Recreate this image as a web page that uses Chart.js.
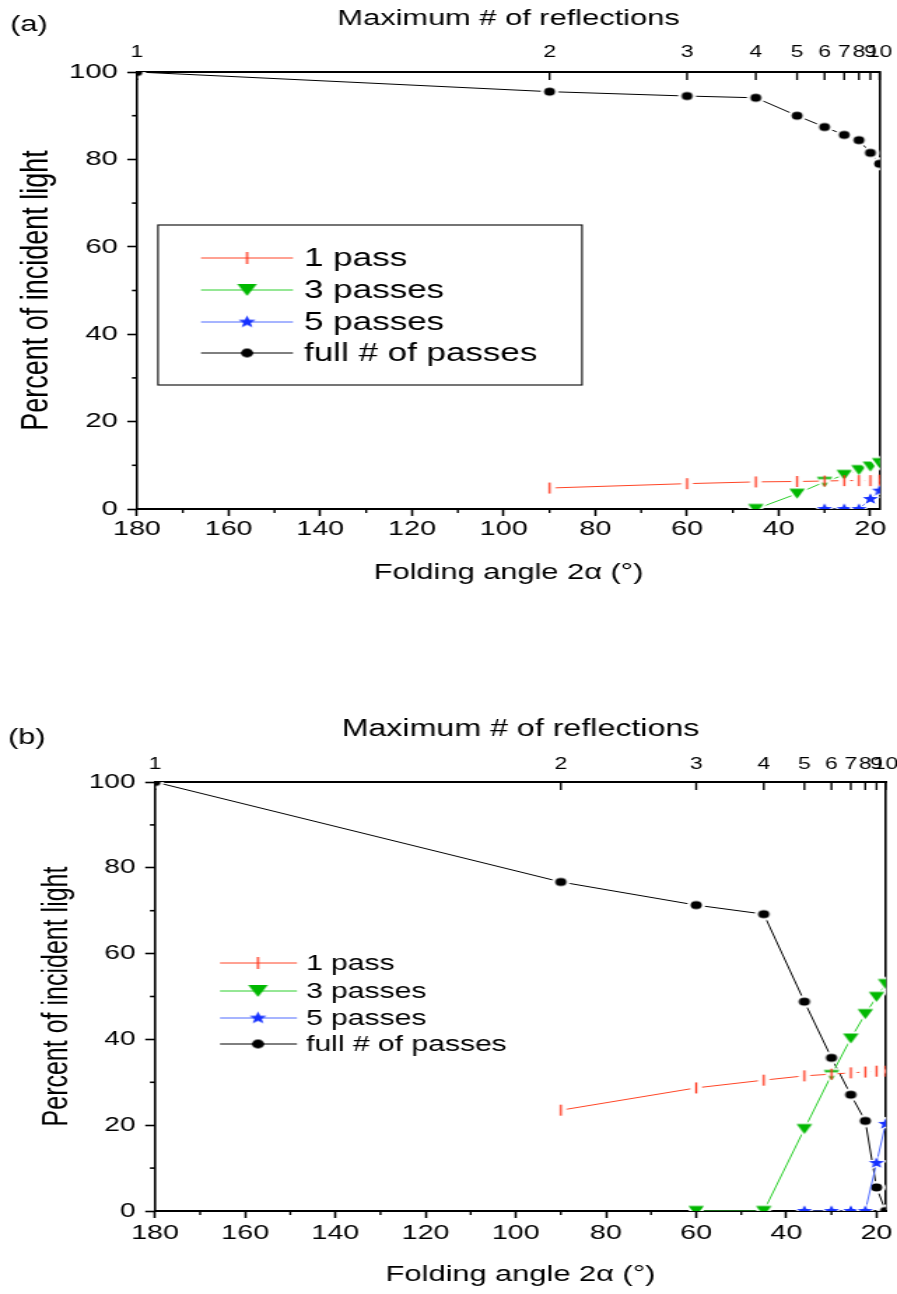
<!DOCTYPE html>
<html>
<head>
<meta charset="utf-8">
<title>Folding angle vs. transmitted light</title>
<script src="https://cdn.jsdelivr.net/npm/chart.js@4/dist/chart.umd.min.js"></script>
<style>
  html, body { margin: 0; padding: 0; background: #fff; }
  body { width: 897px; height: 1294px; position: relative; overflow: hidden; }
  .panel { position: absolute; left: 0; transform-origin: 0 0; }
  #wrapA { top: 0; }
  #wrapB { top: 690px; }
</style>
</head>
<body>
<div class="panel" id="wrapA"><canvas id="chartA" width="641" height="640"></canvas></div>
<div class="panel" id="wrapB"><canvas id="chartB" width="641" height="604"></canvas></div>
<script>
// ---------------- data ----------------
const reflectionLabels = ['1', '2', '3', '4', '5', '6', '7', '8', '9', '10'];
const foldingAngles    = [180, 90, 60, 45, 36, 30, 25.71, 22.5, 20, 18];
const xTickValues      = [180, 160, 140, 120, 100, 80, 60, 40, 20];
const xMinorTicks      = [170, 150, 130, 110, 90, 70, 50, 30];
const yTickValues      = [0, 20, 40, 60, 80, 100];
const yMinorTicks      = [10, 30, 50, 70, 90];
const seriesNames      = ['1 pass', '3 passes', '5 passes', 'full # of passes'];

// panel (a)
const onePassA   = [null, 4.8, 5.8, 6.2, 6.3, 6.4, 6.5, 6.5, 6.5, 6.6];
const threePassA = [null, null, null, 0, 3.5, 6.2, 7.8, 8.9, 9.7, 10.5];
const fivePassA  = [null, null, null, null, null, 0, 0, 0, 2.3, 4.2];
const fullPassA  = [100, 95.5, 94.5, 94.1, 90.0, 87.4, 85.6, 84.4, 81.5, 79.0];

// panel (b)
const onePassB   = [null, 23.5, 28.7, 30.5, 31.5, 31.9, 32.2, 32.4, 32.6, 32.6];
const threePassB = [null, null, 0, 0, 19.1, 31.7, 40.2, 45.9, 49.9, 52.9];
const fivePassB  = [null, null, null, null, 0, 0, 0, 0, 11.2, 20.3];
const fullPassB  = [100, 76.7, 71.3, 69.2, 48.8, 35.7, 27.1, 21.0, 5.5, 0];

// ---------------- look ----------------
const X_MIN = 17.9, X_MAX = 180;
const S = 897 / 641;               // horizontal stretch applied to each panel
document.getElementById('wrapA').style.transform = 'scaleX(' + S + ')';
document.getElementById('wrapB').style.transform = 'scaleX(' + S + ')';

const seriesStyles = [
  { line: '#ff4526', mark: '#ff3319', kind: 'tick' },
  { line: '#2ccf2c', mark: '#00b800', kind: 'tri'  },
  { line: '#4f6bff', mark: '#1530ff', kind: 'star' },
  { line: '#000000', mark: '#000000', kind: 'dot'  }
];

function fontAvailable(name) {
  const g = document.createElement('canvas').getContext('2d');
  const probe = 'mmmmmmmmmmlli0123456789 passes';
  g.font = '40px monospace';
  const base = g.measureText(probe).width;
  g.font = '40px "' + name + '", monospace';
  return Math.abs(g.measureText(probe).width - base) > 0.5;
}
const HAS_NARROW = fontAvailable('Liberation Sans Narrow');
const REG = '"Liberation Sans", Arial, Helvetica, sans-serif';
const NAR = '"Liberation Sans Narrow", "Liberation Sans", Arial, sans-serif';
function regular(size, lh) { return { family: REG, size: size, lineHeight: (size * (lh || 1.2)) + 'px' }; }
function narrow(size, lh) {
  const box = (size * (lh || 1.2)) + 'px';
  return HAS_NARROW ? { family: NAR, size: size, lineHeight: box }
                    : { family: REG, size: Math.round(size * 0.82 * 10) / 10, lineHeight: box };
}

function toPoints(values) {
  const pts = [];
  values.forEach((v, i) => { if (v !== null) pts.push({ x: foldingAngles[i], y: v }); });
  return pts;
}

function canvasMarker(w, h, paint) {
  const c = document.createElement('canvas');
  c.width = w; c.height = h;
  paint(c.getContext('2d'), w / 2, h / 2);
  return c;
}

function markerFor(kind, color, sz, halo) {
  if (kind === 'dot') {
    const r = sz.dot, R = r + halo, n = Math.ceil(2 * R) + 2;
    return canvasMarker(n, n, (g, cx, cy) => {
      if (halo) { g.fillStyle = '#fff'; g.beginPath(); g.arc(cx, cy, R, 0, 2 * Math.PI); g.fill(); }
      g.fillStyle = color; g.beginPath(); g.arc(cx, cy, r, 0, 2 * Math.PI); g.fill();
    });
  }
  if (kind === 'tri') {
    const w = sz.tri[0], h = sz.tri[1];
    const n = Math.ceil(Math.max(w, h) + 2 * halo) + 2;
    return canvasMarker(n, n, (g, cx, cy) => {
      g.beginPath();
      g.moveTo(cx - w / 2, cy - h / 2); g.lineTo(cx + w / 2, cy - h / 2); g.lineTo(cx, cy + h / 2);
      g.closePath();
      if (halo) { g.strokeStyle = '#fff'; g.lineWidth = 2 * halo; g.lineJoin = 'round'; g.stroke(); }
      g.fillStyle = color; g.fill();
    });
  }
  if (kind === 'star') {
    const R = sz.star[0], r = sz.star[1];
    const n = Math.ceil(2 * R + 2 * halo) + 2;
    return canvasMarker(n, n, (g, cx, cy) => {
      g.beginPath();
      for (let k = 0; k < 10; k++) {
        const a = -Math.PI / 2 + k * Math.PI / 5, rr = (k % 2) ? r : R;
        g.lineTo(cx + rr * Math.cos(a), cy + rr * Math.sin(a));
      }
      g.closePath();
      if (halo) { g.strokeStyle = '#fff'; g.lineWidth = 2 * halo; g.lineJoin = 'round'; g.stroke(); }
      g.fillStyle = color; g.fill();
    });
  }
  const h = sz.tick[0], w = sz.tick[1];
  const n = Math.ceil(Math.max(h, w + 2 * halo)) + 2;
  return canvasMarker(n, n, (g, cx, cy) => {
    if (halo) { g.fillStyle = '#fff'; g.fillRect(cx - w / 2 - halo, cy - 2, w + 2 * halo, 4); }
    g.fillStyle = color; g.fillRect(cx - w / 2, cy - h / 2, w, h);
  });
}

// minor ticks, inward reflection ticks, panel tag and the boxed legend
const panelExtras = {
  id: 'panelExtras',
  afterDraw(chart, args, o) {
    const ctx = chart.ctx;
    const xs = chart.scales.x, xt = chart.scales.x2, ys = chart.scales.y;
    const a = chart.chartArea;
    const seg = (x1, y1, x2, y2) => { ctx.beginPath(); ctx.moveTo(x1, y1); ctx.lineTo(x2, y2); ctx.stroke(); };
    ctx.save();
    ctx.strokeStyle = '#000';
    ctx.lineWidth = 1.6;
    yMinorTicks.forEach(v => { const py = ys.getPixelForValue(v); seg(a.left, py, a.left - 3.6, py); });
    ctx.lineWidth = 1.4;
    xMinorTicks.forEach(v => { const px = xs.getPixelForValue(v); seg(px, a.bottom, px, a.bottom + 4); });
    foldingAngles.forEach(v => { const px = xt.getPixelForValue(v); seg(px, a.top, px, a.top + 8); });

    ctx.fillStyle = '#000';
    ctx.textBaseline = 'middle';
    ctx.textAlign = 'left';
    ctx.font = o.tagSize + 'px ' + REG;
    ctx.fillText(o.tag, o.tagX / S, o.tagY);

    const L = o.legend;
    ctx.lineWidth = 1.2;
    ctx.strokeStyle = '#1a1a1a';
    ctx.strokeRect(L.box[0] / S, L.box[1], (L.box[2] - L.box[0]) / S, L.box[3] - L.box[1]);
    ctx.font = L.size + 'px ' + REG;
    chart.data.datasets.forEach((ds, i) => {
      const y = L.rows[i];
      ctx.strokeStyle = ds.borderColor;
      ctx.lineWidth = 1;
      seg(L.line[0] / S, y, L.line[1] / S, y);
      const m = o.legendMarks[i];
      ctx.drawImage(m, L.marker / S - m.width / 2, y - m.height / 2);
      ctx.fillStyle = '#000';
      ctx.fillText(ds.label, L.text / S, y + 1);
    });
    ctx.restore();
  }
};

function buildPanel(p) {
  const datasets = p.series.map((vals, i) => {
    const st = seriesStyles[i];
    return {
      label: seriesNames[i],
      data: toPoints(vals),
      borderColor: st.line,
      backgroundColor: st.mark,
      borderWidth: 1,
      pointStyle: markerFor(st.kind, st.mark, p.marker, p.halo[st.kind]),
      pointRadius: 5,
      pointHoverRadius: 5,
      tension: 0,
      fill: false,
      clip: 0
    };
  });
  const legendMarks = seriesStyles.map(st => markerFor(st.kind, st.mark, p.legendMarker, 0));
  const yW = p.left / S, rightPad = (897 - p.right) / S;
  const topH = p.top, bottomH = p.height - p.bottom;
  const majorGrid = { display: true, drawOnChartArea: false, drawTicks: true, tickLength: 7,
                      tickWidth: 1.6, tickColor: '#000', color: 'rgba(0,0,0,0)' };

  return new Chart(document.getElementById(p.canvas), {
    type: 'line',
    data: { datasets: datasets },
    options: {
      responsive: false,
      devicePixelRatio: 1,
      animation: false,
      events: [],
      layout: { padding: { left: 0, top: 0, bottom: 0, right: rightPad } },
      plugins: {
        legend: { display: false },
        tooltip: { enabled: false },
        panelExtras: { tag: p.tag, tagX: p.tagX, tagY: p.tagY, tagSize: p.tagSize,
                       legend: p.legend, legendMarks: legendMarks }
      },
      scales: {
        x: {
          type: 'linear', position: 'bottom', reverse: true, min: X_MIN, max: X_MAX,
          afterBuildTicks: s => { s.ticks = xTickValues.map(v => ({ value: v })); },
          afterFit: s => { s.height = bottomH; s.paddingLeft = 0; s.paddingRight = 0; },
          ticks: { font: p.xTickFont, color: '#000', padding: p.xTickPad, autoSkip: false,
                   maxRotation: 0, minRotation: 0, callback: v => String(v) },
          grid: majorGrid,
          border: { display: true, color: '#000', width: 2 },
          title: { display: true, text: 'Folding angle 2\u03b1 (\u00b0)', color: '#000',
                   font: p.xTitleFont, padding: { top: 0, bottom: p.xTitlePad } }
        },
        x2: {
          type: 'linear', position: 'top', reverse: true, min: X_MIN, max: X_MAX,
          afterBuildTicks: s => { s.ticks = foldingAngles.map(v => ({ value: v })); },
          afterFit: s => { s.height = topH; s.paddingLeft = 0; s.paddingRight = 0; },
          ticks: { font: p.topTickFont, color: '#000', padding: p.topTickPad, autoSkip: false,
                   maxRotation: 0, minRotation: 0, callback: (v, i) => reflectionLabels[i] },
          grid: { display: true, drawOnChartArea: false, drawTicks: false, color: 'rgba(0,0,0,0)' },
          border: { display: true, color: '#000', width: 2 },
          title: { display: true, text: 'Maximum # of reflections', color: '#000',
                   font: p.topTitleFont, padding: { top: p.topTitlePad, bottom: 0 } }
        },
        y: {
          type: 'linear', position: 'left', min: 0, max: 100,
          afterBuildTicks: s => { s.ticks = yTickValues.map(v => ({ value: v })); },
          afterFit: s => { s.width = yW; s.paddingTop = 0; s.paddingBottom = 0; },
          ticks: { font: p.yTickFont, color: '#000', padding: p.yTickPad },
          grid: majorGrid,
          border: { display: true, color: '#000', width: 1.6 },
          title: { display: true, text: 'Percent of incident light', color: '#000',
                   font: p.yTitleFont, padding: { top: p.yTitlePad, bottom: 0 } }
        },
        y2: {
          type: 'linear', position: 'right', min: 0, max: 100,
          afterFit: s => { s.width = 0; s.paddingTop = 0; s.paddingBottom = 0; },
          ticks: { display: false },
          grid: { display: false, drawTicks: false },
          border: { display: true, color: '#000', width: 1.6 }
        }
      }
    },
    plugins: [panelExtras]
  });
}

buildPanel({
  canvas: 'chartA', tag: '(a)', tagX: 10, tagY: 25, tagSize: 22,
  height: 640, left: 137, right: 880, top: 72, bottom: 509,
  series: [onePassA, threePassA, fivePassA, fullPassA],
  yTickFont: regular(21, 1), yTickPad: 6.6,
  yTitleFont: regular(27), yTitlePad: 10.2,
  xTickFont: narrow(25, 1), xTickPad: 0.5,
  xTitleFont: regular(22), xTitlePad: 53.8,
  topTickFont: narrow(20, 1), topTickPad: 10,
  topTitleFont: regular(22), topTitlePad: 5.5,
  marker: { dot: 3.9, tri: [11, 10], star: [5.8, 2.4], tick: [11, 1.4] },
  legendMarker: { dot: 4.4, tri: [14, 12], star: [6.5, 2.7], tick: [12, 1.4] },
  halo: { dot: 2.5, tri: 2, star: 1.2, tick: 3.5 },
  legend: { box: [158, 225, 582, 385], rows: [258, 290, 322, 353], line: [201, 293],
            marker: 247, text: 304, size: 25 }
});

buildPanel({
  canvas: 'chartB', tag: '(b)', tagX: 8, tagY: 48, tagSize: 22,
  height: 604, left: 155, right: 886, top: 92, bottom: 521,
  series: [onePassB, threePassB, fivePassB, fullPassB],
  yTickFont: regular(20, 1), yTickPad: 7,
  yTitleFont: regular(25), yTitlePad: 25.7,
  xTickFont: narrow(25, 1), xTickPad: 2.5,
  xTitleFont: regular(22), xTitlePad: 5.4,
  topTickFont: narrow(20, 1), topTickPad: 8,
  topTitleFont: regular(23), topTitlePad: 26.2,
  marker: { dot: 4, tri: [11, 10], star: [5.8, 2.4], tick: [11, 1.4] },
  legendMarker: { dot: 4.4, tri: [14, 12], star: [6.5, 2.7], tick: [12, 1.4] },
  halo: { dot: 2.5, tri: 2, star: 1.2, tick: 3.5 },
  legend: { box: [184, 935, 542, 1071], rows: [273, 301, 328, 354], line: [220, 297],
            marker: 258, text: 306, size: 21.5 }
});
</script>
</body>
</html>
